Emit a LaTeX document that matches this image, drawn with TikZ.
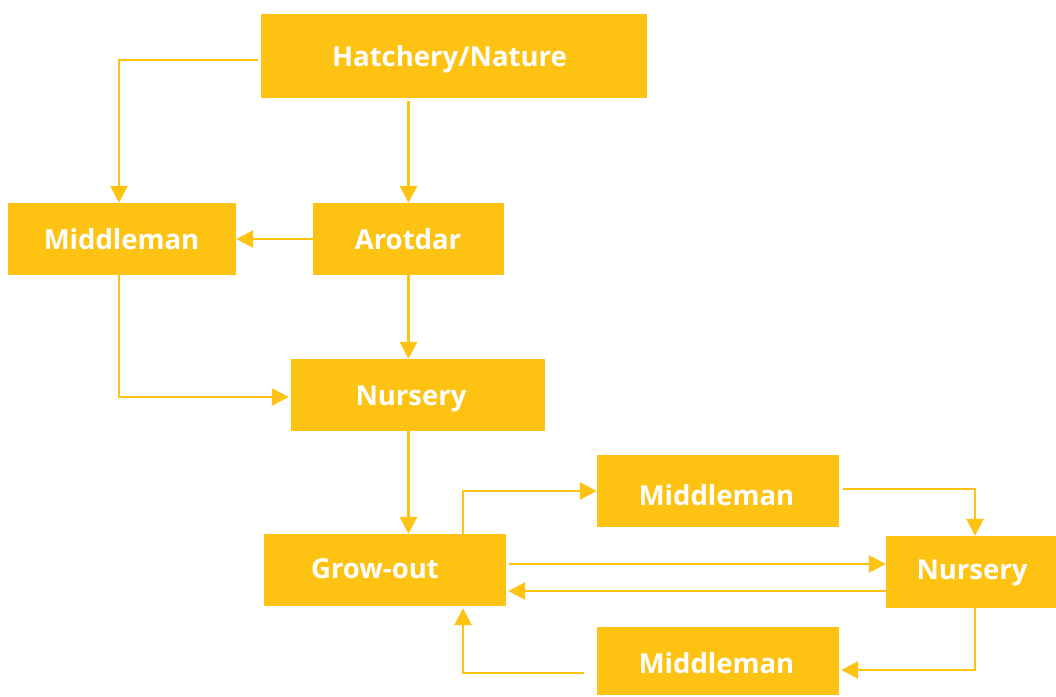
\documentclass[tikz,border=0pt]{standalone}
\usepackage{fontspec}
\setmainfont{Open Sans}
\usetikzlibrary{arrows.meta,calc}
\definecolor{gold}{HTML}{FEC212}
\begin{document}
\begin{tikzpicture}[x=1pt,y=-1pt,
  box/.style={fill=gold,draw=none,inner sep=0pt},
  lbl/.style={text=white,font=\fontsize{27.5}{28}\selectfont\bfseries,inner sep=0pt,anchor=base},
  arr/.style={draw=gold,line width=2.8pt,-{Triangle[length=17pt,width=17pt]}}]
\useasboundingbox (0,0) rectangle (1056,696);
% boxes
\node[box,minimum width=386,minimum height=84] (hatch) at (454,56) {};
\node[box,minimum width=228,minimum height=72] (mid1) at (122,239) {};
\node[box,minimum width=191,minimum height=72] (arot) at (408.5,239) {};
\node[box,minimum width=254,minimum height=72] (nur1) at (418,395) {};
\node[box,minimum width=242,minimum height=72] (grow) at (385,570) {};
\node[box,minimum width=242,minimum height=72] (mid2) at (718,491) {};
\node[box,minimum width=170,minimum height=72] (nur2) at (971,572) {};
\node[box,minimum width=242,minimum height=68] (mid3) at (718,661) {};
% labels (placed on their baselines)
\node[lbl] (hatch-t) at (449.5,66.7) {Hatchery/Nature};
\node[lbl] (mid1-t) at (121.5,249) {Middleman};
\node[lbl] (arot-t) at (408,249) {Arotdar};
\node[lbl] (nur1-t) at (411,405) {Nursery};
\node[lbl] (grow-t) at (375,578.3) {Grow-out};
\node[lbl] (mid2-t) at (716.5,505) {Middleman};
\node[lbl] (nur2-t) at (972,579) {Nursery};
\node[lbl] (mid3-t) at (716.5,673) {Middleman};
% connectors
\draw[arr,shorten <=3pt] ([yshift=-4pt]hatch.west) -| ([xshift=-3pt]mid1.north);
\draw[arr,shorten <=3pt] (hatch.south -| arot.north) -- (arot.north);
\draw[arr] (arot.west) -- (mid1.east);
\draw[arr] (arot.south) -- (arot.south |- nur1.north);
\draw[arr] ([xshift=-3pt]mid1.south) |- ([yshift=-2pt,xshift=-2pt]nur1.west);
\draw[arr] (nur1.south -| arot.south) -- (grow.north -| arot.south);
\draw[arr] ([xshift=78pt]grow.north) |- (mid2.west);
\draw[arr,shorten <=4pt] ([yshift=2pt]mid2.east) -| ([xshift=4pt]nur2.north);
\draw[arr,shorten <=3pt] ([yshift=6pt]grow.east) -- ([yshift=6pt]grow.east -| nur2.west);
\draw[arr,shorten >=2pt] ([yshift=-19pt]nur2.west) -- ([yshift=-19pt]nur2.west -| grow.east);
\draw[arr,shorten >=2pt] ([xshift=4pt]nur2.south) |- ([yshift=-9pt]mid3.east);
\draw[arr,shorten <=13pt,shorten >=2pt] ([yshift=-12pt]mid3.west) -| ([xshift=78pt]grow.south);
\end{tikzpicture}
\end{document}
